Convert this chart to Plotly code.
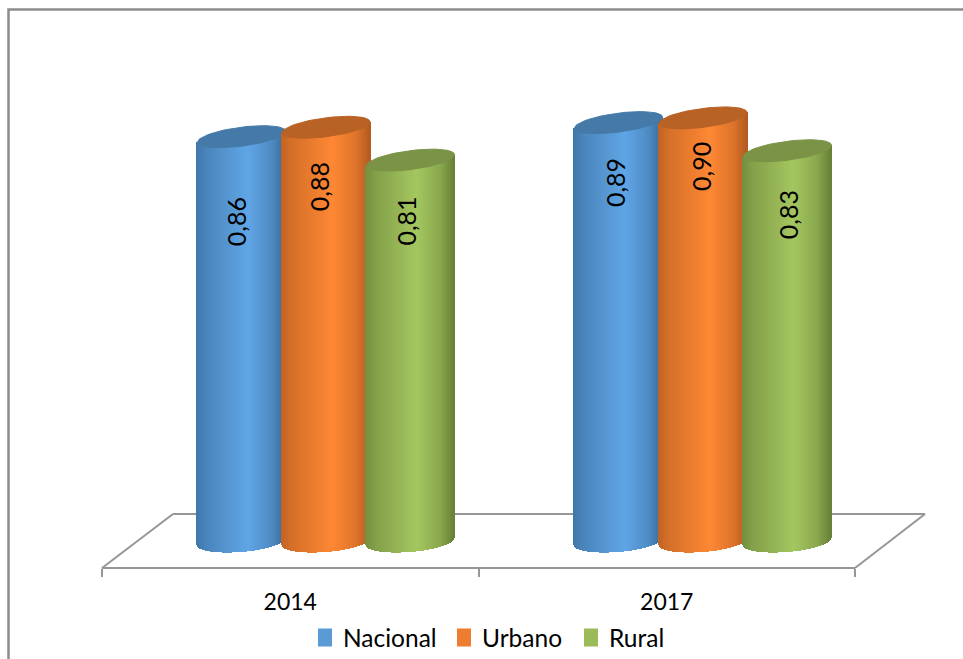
"""Clustered cylinder chart: Nacional / Urbano / Rural, 2014 and 2017."""
import numpy as np
import plotly.graph_objects as go

YEARS = ["2014", "2017"]
SERIES = ["Nacional", "Urbano", "Rural"]
NACIONAL = [0.86, 0.89]
URBANO = [0.88, 0.90]
RURAL = [0.81, 0.83]

W, H = 963, 659
FONT = "Lato, Carlito, sans-serif"
GREY = "#969696"

# series styling: legend colour, brightest body colour, edge colour, lid colour
LEGEND_COLORS = ["#5B9BD5", "#ED7D31", "#9BBB59"]
BRIGHT = [(96, 166, 230), (255, 136, 52), (165, 199, 96)]
EDGE = [(58, 108, 156), (180, 92, 32), (104, 130, 56)]
LID = ["#457AA8", "#B86226", "#7A9347"]
LEGEND_X = [318, 457, 584]  # left edge of each legend box, px

# scales: 377 px between year groups, 469 px per unit, baseline at pixel 540
PX_X, PX_Y = 377.0, 469.0
X0_PX, Y0_PX = 326.0, 540.0
SLOT_STEP = 84.5 / PX_X
CYL_W = 88.0
LID_B, LID_SHEAR = 9.5, 5.5
FOOT_B, FOOT_SHEAR, FOOT_DROP = 10.5, 3.5, 1.5

# hand placement of the rotated labels, px below lid centre / px from axis
LABEL_DROP = [[85, 60, 61], [60, 49, 64]]
LABEL_DX = [[-6, -7, -4], [-4, -2, 0]]


def paper_x(px):
    return px / W


def paper_y(px):
    return 1 - px / H


def shade(u, idx):
    """Body colour across the cylinder, u running from 0 (left) to 1 (right)."""
    mix = np.interp(u, [0, 0.12, 0.58, 0.85, 1], [0.8, 0.55, 0.0, 0.45, 1.0])
    c = [BRIGHT[idx][k] + (EDGE[idx][k] - BRIGHT[idx][k]) * mix for k in range(3)]
    return "rgb(%d,%d,%d)" % tuple(c)


fig = go.Figure()
values = [NACIONAL, URBANO, RURAL]
annotations = []

for g, year in enumerate(YEARS):
    for s, name in enumerate(SERIES):
        v = values[s][g]
        cx = g + (s - 1) * SLOT_STEP
        half = CYL_W / 2 / PX_X

        u = np.linspace(0, 1, 89)
        xs = cx - half + u * 2 * half
        t = 2 * u - 1
        arc = np.sqrt(np.clip(1 - t * t, 0, 1))
        # body slices: sheared lid centreline on top, front of the foot ellipse below
        tops = v + t * LID_SHEAR / PX_Y
        bases = -(arc * FOOT_B - t * FOOT_SHEAR + FOOT_DROP) / PX_Y
        fig.add_bar(
            x=xs, y=tops - bases, base=bases, width=1.3 / PX_X,
            marker=dict(color=[shade(a, s) for a in u], line_width=0),
            showlegend=False, hoverinfo="skip", zorder=2 * s + 2 * g * 3,
        )

        # lid, drawn above its own body
        a = np.linspace(0, 2 * np.pi, 73)
        fig.add_scatter(
            x=cx + half * np.cos(a),
            y=v + (LID_B * np.sin(a) + LID_SHEAR * np.cos(a)) / PX_Y,
            mode="lines", fill="toself", fillcolor=LID[s],
            line=dict(color=LID[s], width=1),
            showlegend=False, hoverinfo="skip", zorder=2 * s + 1 + 2 * g * 3,
        )

        annotations.append(dict(
            x=cx + LABEL_DX[g][s] / PX_X, y=v - LABEL_DROP[g][s] / PX_Y,
            xref="x", yref="y", text=f"{v:.2f}".replace(".", ","),
            textangle=-90, showarrow=False,
            font=dict(family=FONT, size=25, color="#000000"),
        ))

# category axis along the front of the floor, plus the legend entries
legends = {}
for s, name in enumerate(SERIES):
    key = "legend" if s == 0 else f"legend{s + 1}"
    fig.add_scatter(
        x=YEARS, y=[None, None], xaxis="x2", yaxis="y", name=name, mode="markers",
        marker=dict(symbol="square", size=16, color=LEGEND_COLORS[s],
                    line=dict(color=LEGEND_COLORS[s], width=2)),
        legend=key,
    )
    legends[key] = dict(
        x=paper_x(LEGEND_X[s]), xanchor="left", y=paper_y(615), yanchor="top",
        font=dict(family=FONT, size=24.5, color="#000000"), bgcolor="rgba(0,0,0,0)",
        itemwidth=30, indentation=-15,
    )

# floor edges and the frame
floor = [(102, 568, 855, 568), (102, 568, 173, 514), (173, 514, 925, 514), (925, 514, 855, 568)]
shapes = [
    dict(type="line", xref="paper", yref="paper", layer="below",
         x0=paper_x(a), y0=paper_y(b), x1=paper_x(c), y1=paper_y(d),
         line=dict(color=GREY, width=2))
    for a, b, c, d in floor
]
shapes.append(dict(type="rect", xref="paper", yref="paper", layer="below",
                   x0=paper_x(8.5), y0=-0.05, x1=1.05, y1=paper_y(9.5),
                   line=dict(color="#8C8C8C", width=2.5)))

fig.update_layout(
    width=W, height=H,
    margin=dict(l=0, r=0, t=0, b=0, autoexpand=False),
    paper_bgcolor="#FFFFFF", plot_bgcolor="rgba(0,0,0,0)",
    font=dict(family=FONT, color="#000000"),
    barmode="overlay", bargap=0,
    shapes=shapes, annotations=annotations,
    xaxis=dict(visible=False, range=[(0 - X0_PX) / PX_X, (W - X0_PX) / PX_X], fixedrange=True),
    yaxis=dict(visible=False, range=[(Y0_PX - H) / PX_Y, Y0_PX / PX_Y], fixedrange=True),
    xaxis2=dict(
        type="category", domain=[paper_x(102), paper_x(855)], range=[-0.5, 1.5],
        anchor="free", position=paper_y(568), tickson="boundaries",
        showline=False, showgrid=False,
        ticks="outside", ticklen=8, tickwidth=2, tickcolor=GREY,
        ticklabelstandoff=18,
        tickfont=dict(family=FONT, size=23, color="#000000"),
    ),
    **legends,
)

# the page's default body margin would push the chart off the window
fig.write_html("out.html", config=dict(displayModeBar=False),
               post_script="document.body.style.margin='0';")
